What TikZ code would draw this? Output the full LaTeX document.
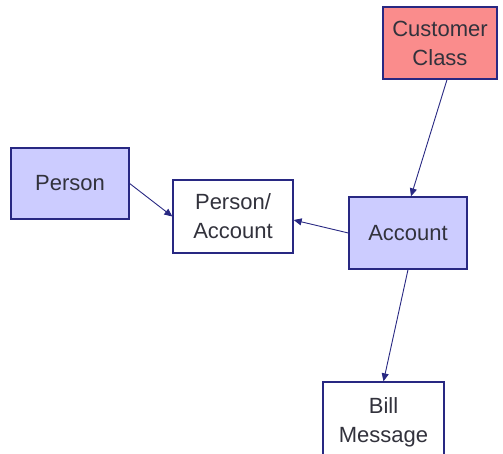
\documentclass[tikz,border=0pt]{standalone}
\usepackage{fontspec}
\setmainfont{Liberation Sans}
\usetikzlibrary{arrows.meta}
\definecolor{entline}{RGB}{40,40,130}
\definecolor{entmain}{RGB}{204,204,255}
\definecolor{entctrl}{RGB}{250,140,140}
\definecolor{enttext}{RGB}{50,50,60}

\begin{document}
\begin{tikzpicture}[x=1pt, y=-1pt,
  ent/.style={draw=entline, line width=1.3pt, fill=white, inner sep=0,
              text=enttext, align=center,
              font=\fontsize{22}{29}\selectfont},
  mainent/.style={ent, fill=entmain},
  ctrlent/.style={ent, fill=entctrl},
  rel/.style={draw=entline, line width=0.9pt,
              -{Triangle[length=8pt,width=7pt]}},
]
\useasboundingbox (0,0) rectangle (503,454);
% entities
\node[ctrlent, minimum width=114pt, minimum height=72pt] (cust) at (440,43) {Customer\\Class};
\node[mainent, minimum width=118pt, minimum height=71pt] (person) at (70,183.5) {Person};
\node[ent, minimum width=120pt, minimum height=73pt] (persacct) at (233,216.5) {Person/\\Account};
\node[mainent, minimum width=118pt, minimum height=72pt] (acct) at (408,233) {Account};
\node[ent, minimum width=121pt, minimum height=80pt] (billmsg) at (383.5,422) {Bill\\Message};
% relationships
\draw[rel] ([xshift=7pt]cust.south) -- ([xshift=3pt]acct.north);
\draw[rel] (person.east) -- (persacct.west);
\draw[rel] (acct.west) -- ([yshift=-3.5pt]persacct.east);
\draw[rel] (acct.south) -- (billmsg.north);
\end{tikzpicture}
\end{document}
